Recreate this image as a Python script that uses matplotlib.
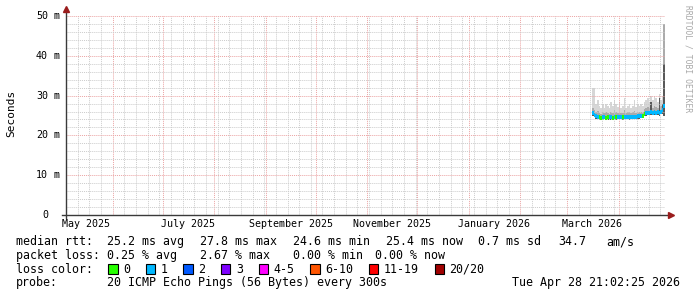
import matplotlib
matplotlib.use("Agg")
import matplotlib.pyplot as plt
import matplotlib.dates as mdates
from matplotlib.patches import Rectangle
import numpy as np
import pandas as pd

# daily values, 2026-03-16 .. 2026-04-28
days = pd.date_range("2026-03-16", periods=44, freq="D")
median_ms = [25.6, 25.2, 24.9, 24.6, 24.5, 24.4, 24.5, 24.6, 24.4, 24.5,
             24.6, 24.5, 24.4, 24.6, 24.5, 24.6, 24.7, 24.6, 24.5, 24.6,
             24.7, 24.6, 24.5, 24.6, 24.7, 24.6, 24.7, 24.8, 24.8, 24.9,
             25.0, 25.4, 25.6, 25.7, 25.7, 25.8, 25.7, 25.8, 25.7, 25.8,
             25.6, 25.9, 26.5, 27.5]
loss = [1, 1, 1, 1, 0, 0, 1, 1, 0, 0,
        1, 1, 0, 1, 0, 1, 1, 1, 0, 1,
        1, 1, 1, 1, 1, 1, 1, 1, 1, 1,
        0, 0, 1, 1, 1, 1, 1, 1, 1, 1,
        1, 1, 1, 1]
smoke_lo = [24.8, 24.5, 24.2, 24.0, 23.9, 23.8, 23.9, 24.0, 23.8, 23.9,
            24.0, 23.9, 23.8, 24.0, 23.9, 24.0, 24.1, 24.0, 23.9, 24.0,
            24.1, 24.0, 23.9, 24.0, 24.1, 24.0, 24.1, 24.2, 24.2, 24.3,
            24.4, 24.8, 25.0, 25.1, 25.1, 25.2, 25.1, 25.2, 25.1, 25.2,
            25.0, 25.3, 25.5, 25.0]
smoke_hi = [32.0, 32.0, 28.0, 29.0, 27.5, 27.0, 27.8, 27.0, 28.0, 27.5,
            27.0, 28.5, 27.5, 29.0, 28.0, 27.2, 28.5, 27.0, 27.5, 29.5,
            27.0, 27.5, 28.0, 27.0, 27.5, 29.0, 27.2, 28.0, 27.5, 28.0,
            27.5, 28.5, 29.0, 29.5, 28.5, 30.0, 29.0, 30.0, 29.5, 28.5,
            30.5, 29.0, 30.0, 48.0]
smoke_mid = [27.0, 26.5, 26.0, 26.2, 25.6, 25.5, 25.8, 25.6, 25.8, 25.6,
             25.5, 26.0, 25.6, 26.3, 25.8, 25.6, 26.0, 25.6, 25.7, 26.4,
             25.6, 25.8, 26.0, 25.6, 25.8, 26.2, 25.7, 26.0, 25.8, 26.0,
             26.0, 26.6, 27.0, 27.2, 27.0, 27.5, 27.0, 27.4, 27.2, 27.0,
             27.6, 27.3, 28.0, 48.0]
smoke_dark = [25.6, 25.2, 24.9, 24.6, 24.5, 24.4, 24.5, 24.6, 24.4, 24.5,
              24.6, 24.5, 24.4, 24.6, 24.5, 24.6, 24.7, 24.6, 24.5, 24.6,
              24.7, 24.6, 24.5, 24.6, 24.7, 24.6, 24.7, 24.8, 24.8, 24.9,
              25.0, 25.4, 25.6, 25.7, 25.7, 28.5, 25.7, 25.8, 25.7, 25.8,
              29.5, 25.9, 28.0, 38.0]

loss_labels = ["0", "1", "2", "3", "4-5", "6-10", "11-19", "20/20"]
loss_colors = ["#26ff00", "#00b8ff", "#0059ff", "#7e00ff",
               "#ff00ff", "#ff5500", "#ff0000", "#a00000"]

ytick_vals = [0, 10, 20, 30, 40, 50]
ytick_text = ["0", "10 m", "20 m", "30 m", "40 m", "50 m"]
xlabel_months = ["2025-05-16", "2025-07-16", "2025-09-16",
                 "2025-11-16", "2026-01-16", "2026-03-16"]

rtt_line = [("median rtt:", 16), ("25.2 ms avg", 107.3), ("27.8 ms max", 200.3),
            ("24.6 ms min", 293.3), ("25.4 ms now", 385.7), ("0.7 ms sd", 478.3),
            ("34.7", 558.3), ("am/s", 606.7)]
loss_line = [("packet loss:", 16), ("0.25 % avg", 107.3), ("2.67 % max", 200.3),
             ("0.00 % min", 293.3), ("0.00 % now", 375.0)]

W, H = 697, 297
MONO = "DejaVu Sans Mono"
plt.rcParams["font.family"] = MONO

fig = plt.figure(figsize=(W / 100, H / 100), dpi=100)
fig.patch.set_facecolor("white")

left, right, top, bottom = 66, 665, 16, 215
ax = fig.add_axes([left / W, 1 - bottom / H, (right - left) / W, (bottom - top) / H])

t_end = pd.Timestamp("2026-04-28 21:02:25")
t_start = t_end - pd.Timedelta(days=360)
ax.set_xlim(t_start, t_end)
ax.set_ylim(0, 50)

# the last column is a bit wider so the spike shows like in rrdtool
edges = list(days) + [days[-1] + pd.Timedelta(days=1)]
edges[-2] = days[-1] - pd.Timedelta(hours=12)
def ext(a):
    return list(a) + [a[-1]]

ax.fill_between(edges, ext(smoke_lo), ext(smoke_hi), step="post",
                color="#d6d6d6", lw=0, zorder=1)
ax.fill_between(edges, ext(smoke_lo), ext(smoke_mid), step="post",
                color="#ababab", lw=0, zorder=1.1)
ax.fill_between(edges, ext(smoke_lo), ext(smoke_dark), step="post",
                color="#595959", lw=0, zorder=1.2)

seg_col = [loss_colors[0] if l == 0 else loss_colors[1] for l in loss]
ax.hlines(median_ms, edges[:-1], edges[1:], colors=seg_col, lw=2.9, zorder=3)

# grid
for s in ax.spines.values():
    s.set_visible(False)
ax.yaxis.set_major_locator(matplotlib.ticker.FixedLocator(ytick_vals))
ax.yaxis.set_minor_locator(matplotlib.ticker.MultipleLocator(2))
ax.xaxis.set_major_locator(mdates.MonthLocator(bymonthday=1))
ax.xaxis.set_minor_locator(mdates.WeekdayLocator(byweekday=mdates.SU))
ax.set_axisbelow(False)
ax.grid(which="minor", color="#cccccc", lw=0.7, ls=(0, (1, 1)), zorder=2)
ax.grid(which="major", color="#eba3a3", lw=0.7, ls=(0, (1, 1)), zorder=2.1)
ax.tick_params(which="both", length=0, labelbottom=False, labelleft=False)

axis_col = "#3a3a3a"
arrow_col = "#9a1c1c"
ax.plot([-4 / (right - left), 1 + 5 / (right - left)], [0, 0], transform=ax.transAxes,
        color=axis_col, lw=1.0, clip_on=False, zorder=4)
ax.plot([0, 0], [-3 / (bottom - top), 1 + 6 / (bottom - top)], transform=ax.transAxes,
        color=axis_col, lw=1.0, clip_on=False, zorder=4)
ax.plot([1 + 6 / (right - left)], [0], marker=">", ms=4.5, color=arrow_col,
        transform=ax.transAxes, clip_on=False, zorder=5)
ax.plot([0], [1 + 7 / (bottom - top)], marker="^", ms=4.5, color=arrow_col,
        transform=ax.transAxes, clip_on=False, zorder=5)

def fx(px):
    return px / W
def fy(py):
    return 1 - py / H

# y tick labels (right edge of the number column at 48 px)
for v, s in zip(ytick_vals, ytick_text):
    yp = bottom - (bottom - top) * v / 50
    num = s.split(" ")[0]
    fig.text(fx(48), fy(yp), num, ha="right", va="center", fontsize=7.2, family=MONO)
    if s.endswith("m"):
        fig.text(fx(54), fy(yp), "m", ha="left", va="center", fontsize=7.2, family=MONO)

# x labels
for d in xlabel_months:
    ts = pd.Timestamp(d)
    ax.text(ts, -0.045, ts.strftime("%B %Y"), transform=ax.get_xaxis_transform(),
            ha="center", va="center", fontsize=7.2, family=MONO)

fig.text(fx(11), fy(113), "Seconds", rotation=90, ha="center", va="center",
         fontsize=8, family=MONO)
fig.text(fx(688), fy(59), "RRDTOOL / TOBI OETIKER", rotation=270, ha="center",
         va="center", fontsize=5.8, family=MONO, color="#a8a8a8")

fs = 8.4
for s, x in rtt_line:
    fig.text(fx(x), fy(241.7), s, ha="left", va="center", fontsize=fs, family=MONO)
for s, x in loss_line:
    fig.text(fx(x), fy(255.2), s, ha="left", va="center", fontsize=fs, family=MONO)

fig.text(fx(16), fy(269.3), "loss color:", ha="left", va="center", fontsize=fs, family=MONO)
bx = 108.3
for lab, col in zip(loss_labels, loss_colors):
    fig.add_artist(Rectangle((fx(bx), fy(274.2)), 9.5 / W, 9.8 / H,
                             transform=fig.transFigure, facecolor=col,
                             edgecolor="black", lw=0.8))
    tx = bx + 15
    fig.text(fx(tx), fy(269.3), lab, ha="left", va="center", fontsize=fs, family=MONO)
    bx = tx + len(lab) * 7.05 + 15.5

fig.text(fx(16), fy(282.8), "probe:", ha="left", va="center", fontsize=fs, family=MONO)
fig.text(fx(107.3), fy(282.8), "20 ICMP Echo Pings (56 Bytes) every 300s",
         ha="left", va="center", fontsize=fs, family=MONO)
fig.text(fx(680), fy(282.8), "Tue Apr 28 21:02:25 2026", ha="right", va="center",
         fontsize=fs, family=MONO)

fig.savefig("out.png", dpi=100)
